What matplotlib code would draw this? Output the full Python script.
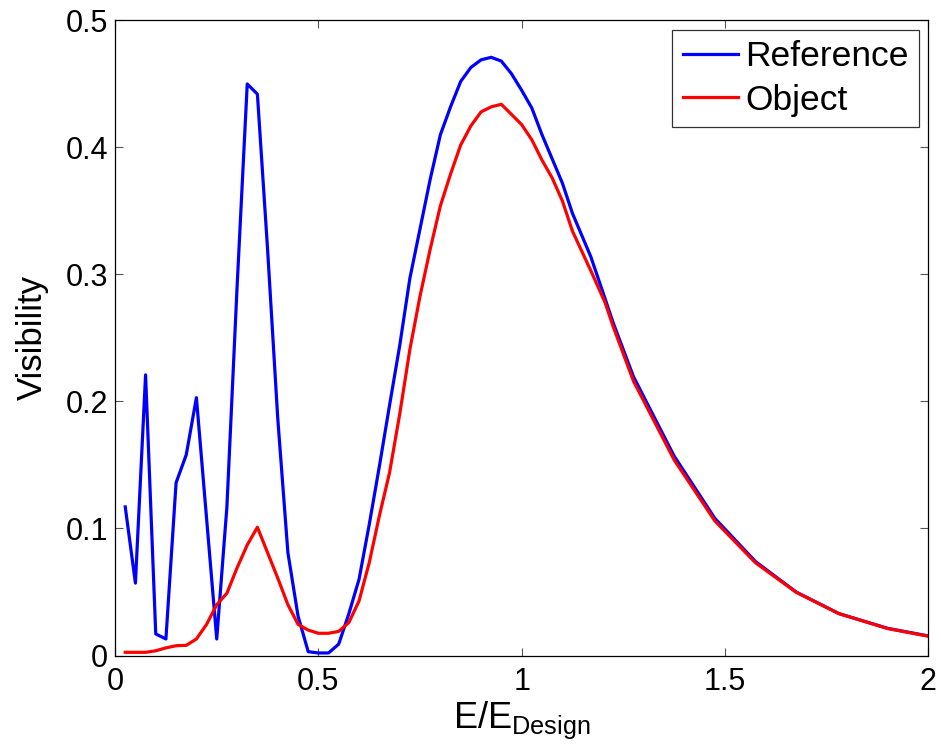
import matplotlib
matplotlib.use('Agg')
import matplotlib.pyplot as plt

plt.rcParams['font.family'] = ['Liberation Sans', 'DejaVu Sans']
plt.rcParams['mathtext.fontset'] = 'custom'
plt.rcParams['mathtext.rm'] = 'Liberation Sans'
plt.rcParams['mathtext.it'] = 'Liberation Sans:italic'

# energy relative to design energy
energy = [0.025, 0.05, 0.075, 0.1, 0.125, 0.15, 0.175, 0.2, 0.225, 0.25,
          0.275, 0.3, 0.325, 0.35, 0.375, 0.4, 0.425, 0.45, 0.475, 0.5,
          0.525, 0.55, 0.575, 0.6, 0.625, 0.65, 0.675, 0.7, 0.725, 0.75,
          0.775, 0.8, 0.825, 0.85, 0.875, 0.9, 0.925, 0.95, 0.975, 1.0,
          1.025, 1.05, 1.075, 1.1, 1.125, 1.17, 1.205, 1.225, 1.275, 1.375,
          1.475, 1.575, 1.675, 1.78, 1.9, 2.0]

vis_reference = [0.117, 0.057, 0.221, 0.017, 0.013, 0.136, 0.158, 0.203, 0.108, 0.013,
                 0.117, 0.29, 0.45, 0.442, 0.32, 0.187, 0.081, 0.031, 0.003, 0.002,
                 0.002, 0.009, 0.033, 0.060, 0.103, 0.149, 0.197, 0.244, 0.297, 0.336,
                 0.375, 0.41, 0.432, 0.452, 0.463, 0.469, 0.471, 0.468, 0.458, 0.445,
                 0.431, 0.41, 0.391, 0.372, 0.348, 0.314, 0.281, 0.262, 0.2195, 0.157,
                 0.108, 0.074, 0.050, 0.033, 0.0214, 0.0154]

vis_object = [0.0025, 0.0025, 0.0025, 0.0037, 0.006, 0.0077, 0.008, 0.013, 0.0245, 0.040,
              0.049, 0.069, 0.087, 0.101, 0.081, 0.061, 0.040, 0.0245, 0.020, 0.0175,
              0.0175, 0.019, 0.026, 0.043, 0.073, 0.110, 0.144, 0.19, 0.241, 0.283,
              0.32, 0.354, 0.379, 0.402, 0.417, 0.428, 0.432, 0.434, 0.426, 0.418,
              0.406, 0.39, 0.376, 0.358, 0.334, 0.303, 0.278, 0.259, 0.216, 0.154,
              0.106, 0.073, 0.0498, 0.033, 0.0212, 0.0152]

x_ticks = [0, 0.5, 1, 1.5, 2]
x_ticklabels = ['0', '0.5', '1', '1.5', '2']
y_ticks = [0, 0.1, 0.2, 0.3, 0.4, 0.5]
y_ticklabels = ['0', '0.1', '0.2', '0.3', '0.4', '0.5']

fig = plt.figure(figsize=(9.41, 7.5), dpi=100)
ax = fig.add_axes([0.1223, 0.126, 0.8642, 0.8467])

ax.plot(energy, vis_reference, color='#0000ff', lw=2.3, label='Reference')
ax.plot(energy, vis_object, color='#ff0000', lw=2.3, label='Object')

ax.set_xlim(0, 2)
ax.set_ylim(0, 0.5)
ax.set_xticks(x_ticks)
ax.set_xticklabels(x_ticklabels)
ax.set_yticks(y_ticks)
ax.set_yticklabels(y_ticklabels)

ax.tick_params(direction='in', top=True, right=True, length=6, width=0.8,
               color='#555555', labelsize=22)
ax.tick_params(axis='x', pad=8)
ax.tick_params(axis='y', pad=5)
for sp in ax.spines.values():
    sp.set_linewidth(0.9)
    sp.set_color('black')

ax.set_xlabel(r'$\mathrm{E/E}_{\mathrm{Design}}$', fontsize=26, labelpad=2)
ax.set_ylabel('Visibility', fontsize=25, labelpad=12)

leg = ax.legend(loc='upper right', fontsize=25.5, frameon=True, fancybox=False,
                handlelength=1.55, handletextpad=0.2, borderpad=0.3,
                borderaxespad=0.26, labelspacing=0.29)
leg.get_frame().set_edgecolor('black')
leg.get_frame().set_linewidth(0.9)

fig.savefig('out.png', dpi=100)
